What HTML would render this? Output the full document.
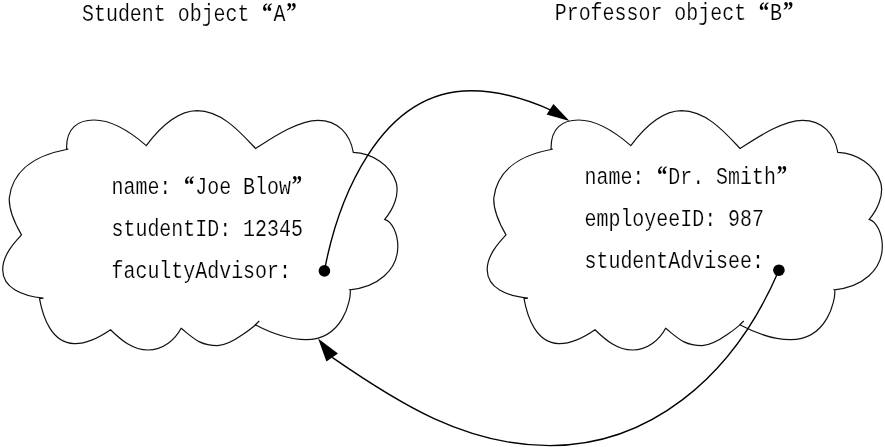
<!DOCTYPE html>
<html lang="en">
<head>
<meta charset="utf-8">
<title>Student and Professor objects</title>
<style>
  html, body { margin: 0; padding: 0; background: #ffffff; }
  body { width: 885px; height: 447px; overflow: hidden; }
  svg { display: block; will-change: transform; }
  .t { font-family: "Liberation Mono", "DejaVu Sans Mono", monospace; font-size: 23.5px; fill: #000; stroke: #fff; stroke-width: 0.18px; }
  .q { font-family: "Liberation Serif", "DejaVu Serif", serif; font-weight: bold; font-size: 24.5px; stroke: none; }
  .cloud { fill: none; stroke: #111; stroke-width: 1.2; stroke-linejoin: miter; }
  .arc { fill: none; stroke: #000; stroke-width: 1.4; }
</style>
</head>
<body>
<svg width="885" height="447" viewBox="0 0 885 447">
  

  <!-- clouds -->
  <path class="cloud" d="M66.6,149.1 C66,128 78,120 94,120 C108,120 126,128 146.3,145.6 C158,130 176,111 197,110.7 C222,111 240,132 255.6,148.5 C272,138 298,120.3 318,120.3 C338,120.3 350,134 353.3,152.3 C372,153 391,165 396.3,183 C399.3,195 393.5,209 384.7,219.4 C392,221.5 398,234 397.8,247 C397.5,270 378,287 349.7,289.8 L350.3,290.4 C351,300 343,339.7 306,339.7 C291.9,339.7 274.7,335 255.2,324.8 L259.2,321 C257,323.8 232.4,345.6 217.6,345.6 C199.2,345.6 193,337.6 181.1,328.3 C175,340 163,350 148,350 C133,350 121,340 110.5,329.7 C100,337 88,344 74,343.6 C52,343 43,318 39.5,298.6 L43.5,298.2 C22,296 3,288 2.7,270 C2.5,256 13,244 21.5,234.9 C14,222 8.6,210 9.3,198 C12,175 29,156.5 66.5,149.5 L68.2,149.2 Z"/>
  <path class="cloud" transform="translate(484.5,0)" d="M66.6,149.1 C66,128 78,120 94,120 C108,120 126,128 146.3,145.6 C158,130 176,111 197,110.7 C222,111 240,132 255.6,148.5 C272,138 298,120.3 318,120.3 C338,120.3 350,134 353.3,152.3 C372,153 391,165 396.3,183 C399.3,195 393.5,209 384.7,219.4 C392,221.5 398,234 397.8,247 C397.5,270 378,287 349.7,289.8 L350.3,290.4 C351,300 343,339.7 306,339.7 C291.9,339.7 274.7,335 255.2,324.8 L259.2,321 C257,323.8 232.4,345.6 217.6,345.6 C199.2,345.6 193,337.6 181.1,328.3 C175,340 163,350 148,350 C133,350 121,340 110.5,329.7 C100,337 88,344 74,343.6 C52,343 43,318 39.5,298.6 L43.5,298.2 C22,296 3,288 2.7,270 C2.5,256 13,244 21.5,234.9 C14,222 8.6,210 9.3,198 C12,175 29,156.5 66.5,149.5 L68.2,149.2 Z"/>

  <!-- arrow A -> B -->
  <path class="arc" d="M324.4,270.9 C337.1,203.6 377.9,90.8 471.2,90.8 C504.2,90.8 534,102.4 552.5,110.8"/>
  <polygon points="569.5,121.1 553.4,104.1 546.6,114.5" fill="#000"/>
  <circle cx="324.4" cy="270.9" r="5.8" fill="#000"/>

  <!-- arrow B -> A -->
  <path class="arc" d="M778.9,270.2 C731.5,381.5 645.9,445.6 549.8,445.6 C465.5,445.6 398,403 332.2,357.4"/>
  <polygon points="318.1,338.6 338,353.4 326.4,361.5" fill="#000"/>
  <circle cx="778.9" cy="270.2" r="5.8" fill="#000"/>

  <!-- titles -->
  <text class="t" transform="translate(82,21.4) scale(0.849,1)">Student object <tspan class="q" dx="0.74" dy="-1">“</tspan><tspan dx="1.11" dy="1">A</tspan><tspan class="q" dx="1" dy="-1">”</tspan></text>
  <text class="t" transform="translate(554.7,20.1) scale(0.849,1)">Professor object <tspan class="q" dx="0.74" dy="-1">“</tspan><tspan dx="1.11" dy="1">B</tspan><tspan class="q" dx="1" dy="-1">”</tspan></text>

  <!-- left cloud fields -->
  <text class="t" transform="translate(111.5,193.9) scale(0.849,1)">name: <tspan class="q" dx="0.74" dy="-1">“</tspan><tspan dx="1.11" dy="1">Joe Blow</tspan><tspan class="q" dx="1" dy="-1">”</tspan></text>
  <text class="t" transform="translate(111.5,236.4) scale(0.849,1)">studentID: 12345</text>
  <text class="t" transform="translate(111.5,278) scale(0.849,1)">facultyAdvisor:</text>

  <!-- right cloud fields -->
  <text class="t" transform="translate(584.5,184.2) scale(0.849,1)">name: <tspan class="q" dx="0.74" dy="-1">“</tspan><tspan dx="1.11" dy="1">Dr. Smith</tspan><tspan class="q" dx="1" dy="-1">”</tspan></text>
  <text class="t" transform="translate(584.5,226) scale(0.849,1)">employeeID: 987</text>
  <text class="t" transform="translate(584.5,267.8) scale(0.849,1)">studentAdvisee:</text>
</svg>
</body>
</html>
